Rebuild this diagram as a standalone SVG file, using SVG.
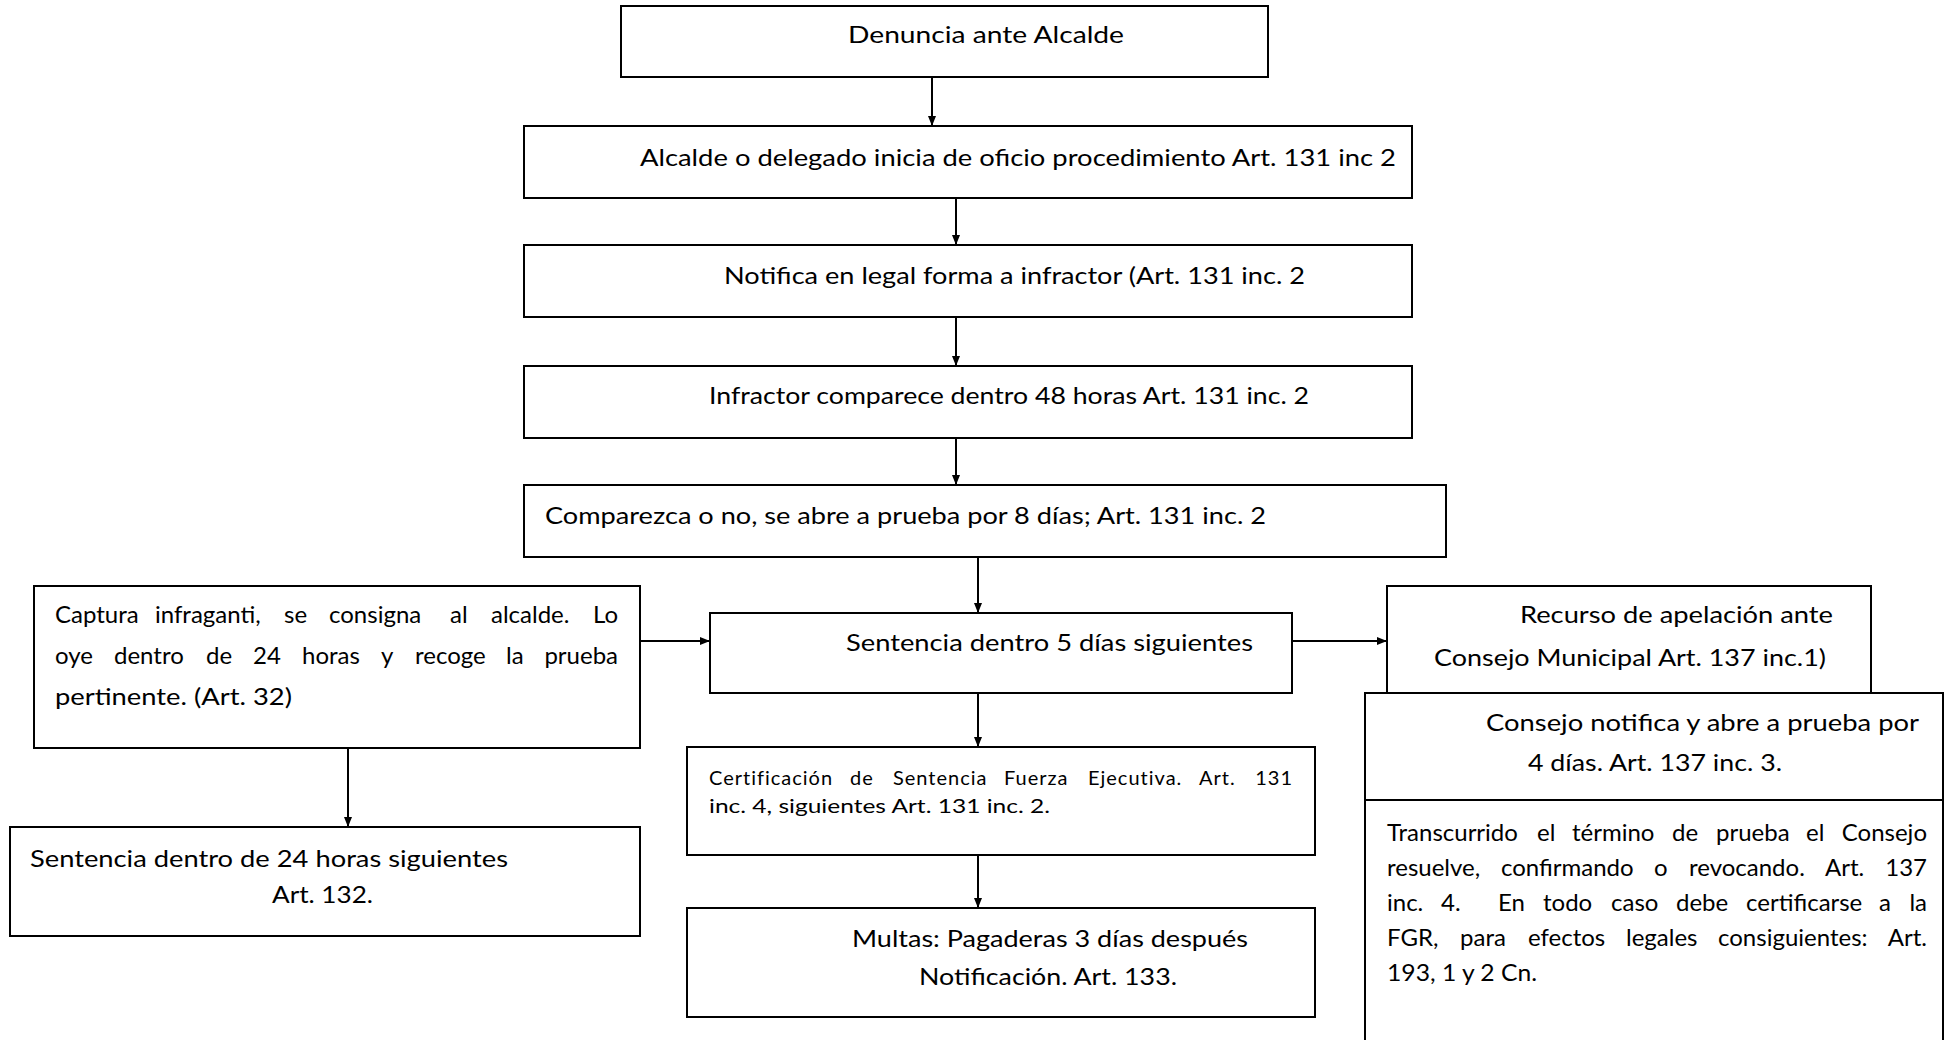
<svg xmlns="http://www.w3.org/2000/svg" width="1951" height="1040" viewBox="0 0 1951 1040">
<defs>
<style>
.box{fill:#fff;stroke:#000;stroke-width:2}
.t{font-family:Lato,"Liberation Sans",sans-serif;font-size:24px;fill:#000}
.s{font-family:Lato,"Liberation Sans",sans-serif;font-size:20px;fill:#000}
.ls{letter-spacing:1px}
.c{fill:none;stroke:#000;stroke-width:2}
.e{text-anchor:end}
</style>
<marker id="ah" markerWidth="10" markerHeight="10" refX="9" refY="5" orient="auto" markerUnits="userSpaceOnUse">
<path d="M0,1 L10,5 L0,9 Z" fill="#000"/>
</marker>
</defs>
<rect width="1951" height="1040" fill="#fff"/>
<g id="connectors">
<line class="c" x1="932" y1="77" x2="932" y2="125" marker-end="url(#ah)"/>
<line class="c" x1="956" y1="198" x2="956" y2="244" marker-end="url(#ah)"/>
<line class="c" x1="956" y1="317" x2="956" y2="365" marker-end="url(#ah)"/>
<line class="c" x1="956" y1="438" x2="956" y2="484" marker-end="url(#ah)"/>
<line class="c" x1="978" y1="557" x2="978" y2="612" marker-end="url(#ah)"/>
<line class="c" x1="640" y1="641" x2="709" y2="641" marker-end="url(#ah)"/>
<line class="c" x1="1292" y1="641" x2="1386" y2="641" marker-end="url(#ah)"/>
<line class="c" x1="348" y1="748" x2="348" y2="826" marker-end="url(#ah)"/>
<line class="c" x1="978" y1="693" x2="978" y2="746" marker-end="url(#ah)"/>
<line class="c" x1="978" y1="855" x2="978" y2="907" marker-end="url(#ah)"/>
</g>
<g id="n1">
<rect class="box" x="621" y="6" width="647" height="71"/>
<text class="t" x="848" y="43" textLength="276" lengthAdjust="spacingAndGlyphs">Denuncia ante Alcalde</text>
</g>
<g id="n2">
<rect class="box" x="524" y="126" width="888" height="72"/>
<text class="t" x="640" y="166" textLength="756" lengthAdjust="spacingAndGlyphs">Alcalde o delegado inicia de oficio procedimiento Art. 131 inc 2</text>
</g>
<g id="n3">
<rect class="box" x="524" y="245" width="888" height="72"/>
<text class="t" x="724" y="284" textLength="581" lengthAdjust="spacingAndGlyphs">Notifica en legal forma a infractor (Art. 131 inc. 2</text>
</g>
<g id="n4">
<rect class="box" x="524" y="366" width="888" height="72"/>
<text class="t" x="709" y="404" textLength="600" lengthAdjust="spacingAndGlyphs">Infractor comparece dentro 48 horas Art. 131 inc. 2</text>
</g>
<g id="n5">
<rect class="box" x="524" y="485" width="922" height="72"/>
<text class="t" x="545" y="524" textLength="721" lengthAdjust="spacingAndGlyphs">Comparezca o no, se abre a prueba por 8 días; Art. 131 inc. 2</text>
</g>
<g id="n6">
<rect class="box" x="710" y="613" width="582" height="80"/>
<text class="t" x="846" y="651" textLength="407" lengthAdjust="spacingAndGlyphs">Sentencia dentro 5 días siguientes</text>
</g>
<g id="n7">
<rect class="box" x="34" y="586" width="606" height="162"/>
<text class="t" y="623"><tspan x="55">Captura</tspan><tspan x="155">infraganti,</tspan><tspan x="284">se</tspan><tspan x="329">consigna</tspan><tspan x="450">al</tspan><tspan x="491">alcalde.</tspan><tspan x="618" class="e">Lo</tspan></text>
<text class="t" y="664"><tspan x="55">oye</tspan><tspan x="114">dentro</tspan><tspan x="206">de</tspan><tspan x="253">24</tspan><tspan x="302">horas</tspan><tspan x="381">y</tspan><tspan x="415">recoge</tspan><tspan x="506">la</tspan><tspan x="618" class="e">prueba</tspan></text>
<text class="t" x="55" y="705" textLength="237" lengthAdjust="spacingAndGlyphs">pertinente. (Art. 32)</text>
</g>
<g id="n8">
<rect class="box" x="10" y="827" width="630" height="109"/>
<text class="t" x="30" y="867" textLength="478" lengthAdjust="spacingAndGlyphs">Sentencia dentro de 24 horas siguientes</text>
<text class="t" x="272" y="903" textLength="101" lengthAdjust="spacingAndGlyphs">Art. 132.</text>
</g>
<g id="n9">
<rect class="box" x="687" y="747" width="628" height="108"/>
<text class="s ls" y="785"><tspan x="709">Certificación</tspan><tspan x="850">de</tspan><tspan x="893">Sentencia</tspan><tspan x="1004">Fuerza</tspan><tspan x="1088">Ejecutiva.</tspan><tspan x="1199">Art.</tspan><tspan x="1293" class="e">131</tspan></text>
<text class="s" x="709" y="813" textLength="341" lengthAdjust="spacingAndGlyphs">inc. 4, siguientes Art. 131 inc. 2.</text>
</g>
<g id="n10">
<rect class="box" x="687" y="908" width="628" height="109"/>
<text class="t" x="852" y="947" textLength="396" lengthAdjust="spacingAndGlyphs">Multas: Pagaderas 3 días después</text>
<text class="t" x="919" y="985" textLength="258" lengthAdjust="spacingAndGlyphs">Notificación. Art. 133.</text>
</g>
<g id="n11">
<rect class="box" x="1387" y="586" width="484" height="120"/>
<text class="t" x="1520" y="623" textLength="313" lengthAdjust="spacingAndGlyphs">Recurso de apelación ante</text>
<text class="t" x="1434" y="666" textLength="392" lengthAdjust="spacingAndGlyphs">Consejo Municipal Art. 137 inc.1)</text>
</g>
<g id="n12">
<rect class="box" x="1365" y="693" width="578" height="107"/>
<text class="t" x="1486" y="731" textLength="433" lengthAdjust="spacingAndGlyphs">Consejo notifica y abre a prueba por</text>
<text class="t" x="1528" y="771" textLength="254" lengthAdjust="spacingAndGlyphs">4 días. Art. 137 inc. 3.</text>
</g>
<g id="n13">
<rect class="box" x="1365" y="800" width="578" height="260"/>
<text class="t" y="841"><tspan x="1387">Transcurrido</tspan><tspan x="1537">el</tspan><tspan x="1572">término</tspan><tspan x="1672">de</tspan><tspan x="1716">prueba</tspan><tspan x="1806">el</tspan><tspan x="1927" class="e">Consejo</tspan></text>
<text class="t" y="876"><tspan x="1387">resuelve,</tspan><tspan x="1501">confirmando</tspan><tspan x="1654">o</tspan><tspan x="1689">revocando.</tspan><tspan x="1825">Art.</tspan><tspan x="1927" class="e">137</tspan></text>
<text class="t" y="911"><tspan x="1387">inc.</tspan><tspan x="1441">4.</tspan><tspan x="1498">En</tspan><tspan x="1543">todo</tspan><tspan x="1611">caso</tspan><tspan x="1676">debe</tspan><tspan x="1746">certificarse</tspan><tspan x="1879">a</tspan><tspan x="1927" class="e">la</tspan></text>
<text class="t" y="946"><tspan x="1387">FGR,</tspan><tspan x="1460">para</tspan><tspan x="1528">efectos</tspan><tspan x="1626">legales</tspan><tspan x="1718">consiguientes:</tspan><tspan x="1927" class="e">Art.</tspan></text>
<text class="t" x="1387" y="981" textLength="150" lengthAdjust="spacingAndGlyphs">193, 1 y 2 Cn.</text>
</g>
</svg>
